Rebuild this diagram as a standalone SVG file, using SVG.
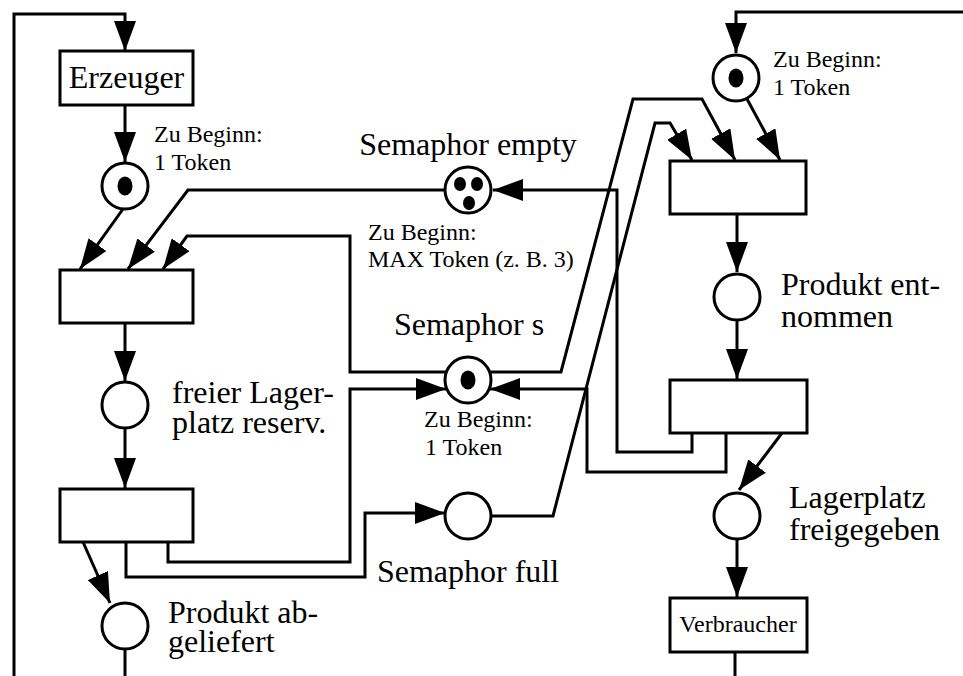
<svg xmlns="http://www.w3.org/2000/svg" width="963" height="676" viewBox="0 0 963 676">
<style>
.ln{fill:none;stroke:#000;stroke-width:3;stroke-linejoin:miter}
.box{fill:#fff;stroke:#000;stroke-width:3}
.pl{fill:#fff;stroke:#000;stroke-width:3}
.tk{fill:#000}
text{font-family:"Liberation Serif","Times New Roman",serif;fill:#000}
.big{font-size:32px}
.sm{font-size:24px}
.mid{text-anchor:middle}
</style>
<defs>
<marker id="ah" viewBox="0 0 30 22" refX="30" refY="11" markerWidth="30" markerHeight="22" orient="auto" markerUnits="userSpaceOnUse"><path d="M0,0 L30,11 L0,22 z" fill="#000"/></marker>
</defs>
<g id="connectors">
<path class="ln" d="M14,676 V14 H125 V51" marker-end="url(#ah)"/>
<path class="ln" d="M125,105 V162" marker-end="url(#ah)"/>
<path class="ln" d="M123,209 L80,269" marker-end="url(#ah)"/>
<path class="ln" d="M444,190 H188 L128,269" marker-end="url(#ah)"/>
<path class="ln" d="M446,372 H350 V236 H187 L163,269" marker-end="url(#ah)"/>
<path class="ln" d="M125,323 V381" marker-end="url(#ah)"/>
<path class="ln" d="M125,428 V488" marker-end="url(#ah)"/>
<path class="ln" d="M83,542 L110,603" marker-end="url(#ah)"/>
<path class="ln" d="M125,649 V676"/>
<path class="ln" d="M168,542 V562 H350 V389 H446" marker-end="url(#ah)"/>
<path class="ln" d="M126,542 V577 H365 V513 H445" marker-end="url(#ah)"/>
<path class="ln" d="M491,516 H553 L655,123 H670 L692,160" marker-end="url(#ah)"/>
<path class="ln" d="M490,372 H561 L633,99 H702 L735,160" marker-end="url(#ah)"/>
<path class="ln" d="M747,99 L780,160" marker-end="url(#ah)"/>
<path class="ln" d="M963,12 H736 V53" marker-end="url(#ah)"/>
<path class="ln" d="M737,214 V272" marker-end="url(#ah)"/>
<path class="ln" d="M737,320 V379" marker-end="url(#ah)"/>
<path class="ln" d="M692,433 V452 H617 V190 H493" marker-end="url(#ah)"/>
<path class="ln" d="M726,433 V472 H587 V389 H490" marker-end="url(#ah)"/>
<path class="ln" d="M782,433 L739,490" marker-end="url(#ah)"/>
<path class="ln" d="M737,540 V597" marker-end="url(#ah)"/>
<path class="ln" d="M735,652 V676"/>
</g>
<g id="erzeuger">
<rect class="box" x="60" y="51" width="133" height="54"/>
<text class="big mid" x="126.5" y="88">Erzeuger</text>
</g>
<g id="p-start">
<circle class="pl" cx="125" cy="186" r="23"/>
<ellipse class="tk" cx="125" cy="186" rx="7.5" ry="9.5"/>
<text class="sm" x="154" y="142">Zu Beginn:</text>
<text class="sm" x="154" y="170">1 Token</text>
</g>
<g id="t1"><rect class="box" x="60" y="270" width="133" height="53"/></g>
<g id="p-reserv">
<circle class="pl" cx="125" cy="405" r="23"/>
<text class="big" x="172" y="403">freier Lager-</text>
<text class="big" x="172" y="433">platz reserv.</text>
</g>
<g id="t2"><rect class="box" x="60" y="489" width="133" height="53"/></g>
<g id="p-abgeliefert">
<circle class="pl" cx="125" cy="626" r="23"/>
<text class="big" x="168" y="623">Produkt ab-</text>
<text class="big" x="168" y="652">geliefert</text>
</g>
<g id="sem-empty">
<text class="big mid" x="468" y="155">Semaphor empty</text>
<circle class="pl" cx="468" cy="190" r="23"/>
<ellipse class="tk" cx="460" cy="184" rx="6" ry="7"/>
<ellipse class="tk" cx="477" cy="184" rx="6" ry="7"/>
<ellipse class="tk" cx="469" cy="203" rx="6" ry="7"/>
<text class="sm" x="368" y="240">Zu Beginn:</text>
<text class="sm" x="368" y="267">MAX Token (z. B. 3)</text>
</g>
<g id="sem-s">
<text class="big mid" x="469" y="335">Semaphor s</text>
<circle class="pl" cx="468" cy="380" r="23"/>
<ellipse class="tk" cx="468" cy="380" rx="7.5" ry="9.5"/>
<text class="sm" x="424" y="427">Zu Beginn:</text>
<text class="sm" x="425" y="455">1 Token</text>
</g>
<g id="sem-full">
<circle class="pl" cx="468" cy="516" r="23"/>
<text class="big mid" x="468" y="582">Semaphor full</text>
</g>
<g id="p-cons-start">
<circle class="pl" cx="736" cy="78" r="23"/>
<ellipse class="tk" cx="736" cy="78" rx="7.5" ry="9.5"/>
<text class="sm" x="773" y="67">Zu Beginn:</text>
<text class="sm" x="773" y="95">1 Token</text>
</g>
<g id="t3"><rect class="box" x="670" y="161" width="136" height="53"/></g>
<g id="p-entnommen">
<circle class="pl" cx="737" cy="297" r="23"/>
<text class="big" x="781" y="295">Produkt ent-</text>
<text class="big" x="781" y="327">nommen</text>
</g>
<g id="t4"><rect class="box" x="670" y="380" width="137" height="53"/></g>
<g id="p-freigegeben">
<circle class="pl" cx="737" cy="516" r="23"/>
<text class="big" x="789" y="508">Lagerplatz</text>
<text class="big" x="789" y="540">freigegeben</text>
</g>
<g id="verbraucher">
<rect class="box" x="670" y="598" width="137" height="54"/>
<text class="sm mid" x="738" y="632">Verbraucher</text>
</g>
</svg>
